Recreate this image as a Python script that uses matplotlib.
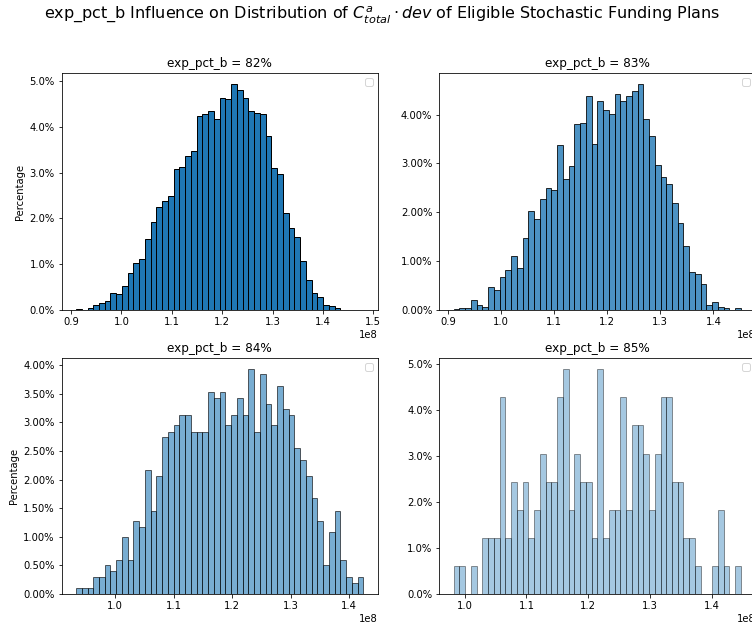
# Distribucion de C_total^a * dev para distintos exp_pct_b (histogramas en %)

import numpy as np
import matplotlib.pyplot as plt
from matplotlib.ticker import PercentFormatter, MultipleLocator

# exp_pct_b de cada panel
exp_pct_b = [82, 83, 84, 85]

# rango de los bins (en unidades de 1e8), 50 bins por panel
bin_lo = [0.910, 0.9106, 0.933, 0.9822]
bin_hi = [1.480, 1.452, 1.4245, 1.4477]

# porcentaje de planes por bin
pct_82 = [0.02, 0.00, 0.04, 0.10, 0.15, 0.19, 0.37, 0.35, 0.52, 0.80,
          1.03, 1.11, 1.55, 1.93, 2.25, 2.37, 2.48, 3.09, 3.13, 3.36,
          3.48, 4.24, 4.28, 4.35, 4.17, 4.64, 4.60, 4.93, 4.80, 4.62,
          4.35, 4.31, 4.28, 3.80, 3.11, 2.98, 2.12, 1.79, 1.60, 1.08,
          0.66, 0.38, 0.28, 0.12, 0.08, 0.04, 0.00, 0.00, 0.00, 0.00]
pct_83 = [0.02, 0.05, 0.04, 0.20, 0.10, 0.06, 0.47, 0.41, 0.67, 0.82,
          1.10, 0.86, 1.48, 2.03, 1.87, 2.28, 2.50, 2.46, 3.38, 2.68,
          2.94, 3.80, 3.82, 4.37, 3.39, 4.27, 4.10, 4.01, 4.43, 4.27,
          4.37, 4.49, 4.62, 3.90, 3.56, 2.96, 2.72, 2.58, 2.19, 1.78,
          1.32, 0.78, 0.73, 0.54, 0.10, 0.16, 0.06, 0.04, 0.00, 0.04]
pct_84 = [0.10, 0.10, 0.10, 0.30, 0.30, 0.50, 0.40, 0.59, 0.99, 0.59,
          1.28, 1.18, 2.17, 1.46, 2.07, 2.75, 2.84, 2.95, 3.13, 3.13,
          2.84, 2.84, 2.84, 3.53, 3.43, 3.53, 2.95, 3.13, 3.43, 3.13,
          3.93, 2.84, 3.84, 3.33, 2.95, 3.63, 3.23, 3.13, 2.55, 2.35,
          2.07, 1.67, 1.28, 0.50, 1.08, 1.46, 0.59, 0.30, 0.20, 0.30]
pct_85 = [0.61, 0.61, 0.00, 0.61, 0.00, 1.22, 1.22, 1.22, 4.27, 1.22,
          2.44, 1.83, 2.44, 1.22, 1.83, 3.05, 2.44, 2.44, 4.27, 4.88,
          1.83, 3.05, 2.44, 2.44, 1.22, 4.88, 1.22, 1.83, 1.83, 4.27,
          1.83, 3.66, 3.66, 3.05, 1.83, 3.05, 4.27, 4.27, 2.44, 2.44,
          1.22, 1.22, 0.61, 0.00, 0.00, 0.61, 1.83, 0.61, 0.00, 0.61]

pcts = [pct_82, pct_83, pct_84, pct_85]
alphas = [1.0, 0.8, 0.6, 0.4]
y_step = [1.0, 1.0, 0.5, 1.0]
y_decimals = [1, 2, 2, 1]

W, H = 752, 625
fig = plt.figure(figsize=(W / 72, H / 72), dpi=72)

# posiciones de los ejes [left, bottom, width, height]
boxes = [
    [0.082, 0.504, 0.4202, 0.3792],
    [0.5842, 0.504, 0.4202, 0.3792],
    [0.082, 0.0496, 0.4202, 0.3776],
    [0.5842, 0.0496, 0.4202, 0.3776],
]

for i in range(4):
    ax = fig.add_axes(boxes[i])
    edges = np.linspace(bin_lo[i], bin_hi[i], len(pcts[i]) + 1) * 1e8
    ax.bar(edges[:-1], pcts[i], width=np.diff(edges), align="edge",
           color="C0", edgecolor="black", linewidth=1.0, alpha=alphas[i])
    ax.yaxis.set_major_locator(MultipleLocator(y_step[i]))
    ax.yaxis.set_major_formatter(PercentFormatter(xmax=100, decimals=y_decimals[i]))
    ax.set_title(f"exp_pct_b = {exp_pct_b[i]}%", fontsize=12)
    if i % 2 == 0:
        ax.set_ylabel("Percentage")
    ax.legend(handles=[], loc="upper right")

fig.suptitle(
    r"exp_pct_b Influence on Distribution of $C^{a}_{total} \cdot dev$ of Eligible Stochastic Funding Plans",
    fontsize=16, x=0.5086, y=0.976, va="center",
)

fig.savefig("out.png", dpi=72)
